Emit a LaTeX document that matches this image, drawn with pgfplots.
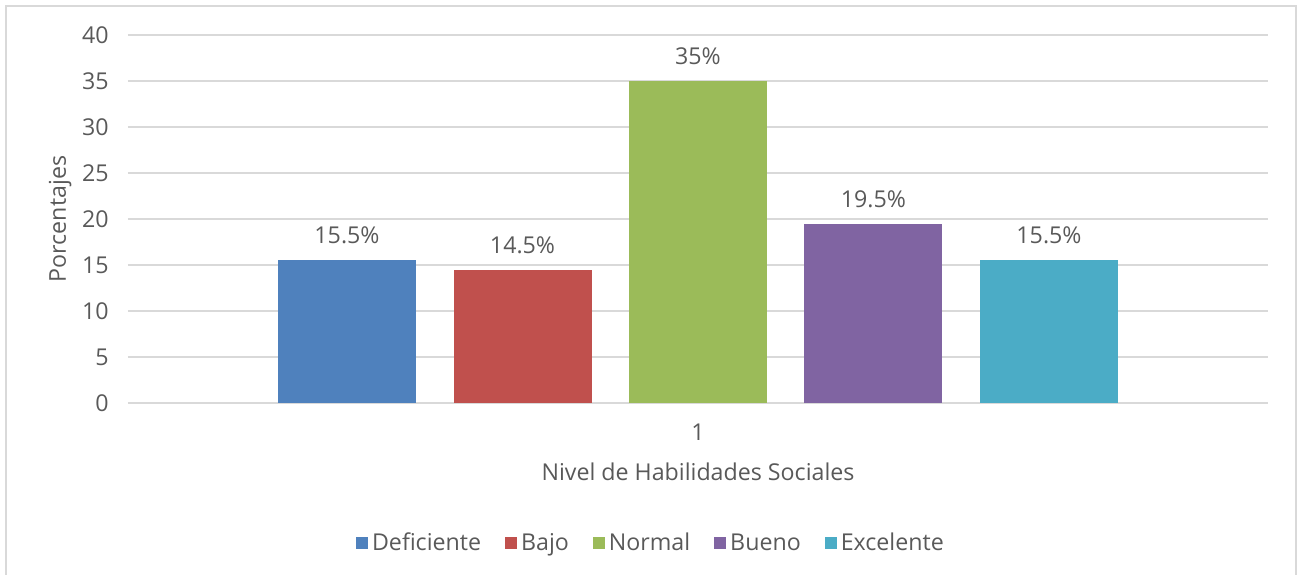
\documentclass[border=0pt]{standalone}
\usepackage{pgfplots}
\pgfplotsset{compat=1.18}
\usepackage{fontspec}
\setmainfont{Open Sans}
\definecolor{txt}{HTML}{595959}
\definecolor{gridc}{HTML}{D9D9D9}
\definecolor{c1}{HTML}{4F81BD}
\definecolor{c2}{HTML}{C0504D}
\definecolor{c3}{HTML}{9BBB59}
\definecolor{c4}{HTML}{8064A2}
\definecolor{c5}{HTML}{4BACC6}
\newcommand{\fs}{\fontsize{17.4}{20}\selectfont}
\begin{document}
\begin{tikzpicture}
\useasboundingbox (-96pt,-129pt) rectangle (876.75pt,302.25pt);
\draw[gridc, line width=1pt] (-91.5pt,-140pt) rectangle (876pt,297.75pt);
\begin{axis}[
  at={(0pt,0pt)}, anchor=south west,
  scale only axis, width=855pt, height=276pt,
  xmin=0, xmax=2, ymin=0, ymax=40,
  ytick={0,5,...,40}, xtick={1},
  major tick length=0pt,
  axis line style={draw=none},
  ymajorgrids, grid style={gridc, line width=1pt},
  /pgf/number format/assume math mode=true,
  ticklabel style={font=\fs, text=txt},
  yticklabel style={xshift=-11pt},
  xticklabel style={yshift=-12pt},
  label style={font=\fs, text=txt},
  xlabel={Nivel de Habilidades Sociales},
  ylabel={Porcentajes},
  xlabel style={at={(axis description cs:0.5,-0.1875)}, anchor=center},
  ylabel style={at={(axis description cs:-0.0596,0.5)}, anchor=center},
  ybar, bar width=103.5pt,
  point meta=explicit symbolic,
  nodes near coords,
  nodes near coords style={font=\fs, text=txt, anchor=center, yshift=18.5pt},
  legend style={at={(0.459,-0.380)}, anchor=center, draw=none, fill=none,
    legend columns=-1, font=\fs, text=txt,
    /tikz/every even column/.append style={column sep=16pt},
    /tikz/every odd column/.append style={column sep=1pt}},
  legend image code/.code={\path[#1] (0pt,-4.5pt) rectangle (9pt,4.5pt);},
]
\addplot[fill=c1, draw=none, bar shift=-263.25pt] coordinates {(1,15.5) [15.5\%]};
\addplot[fill=c2, draw=none, bar shift=-131.6pt] coordinates {(1,14.5) [14.5\%]};
\addplot[fill=c3, draw=none, bar shift=0pt] coordinates {(1,35) [35\%]};
\addplot[fill=c4, draw=none, bar shift=131.6pt] coordinates {(1,19.5) [19.5\%]};
\addplot[fill=c5, draw=none, bar shift=263.25pt] coordinates {(1,15.5) [15.5\%]};
\legend{Deficiente, Bajo, Normal, Bueno, Excelente}
\end{axis}
\end{tikzpicture}
\end{document}
